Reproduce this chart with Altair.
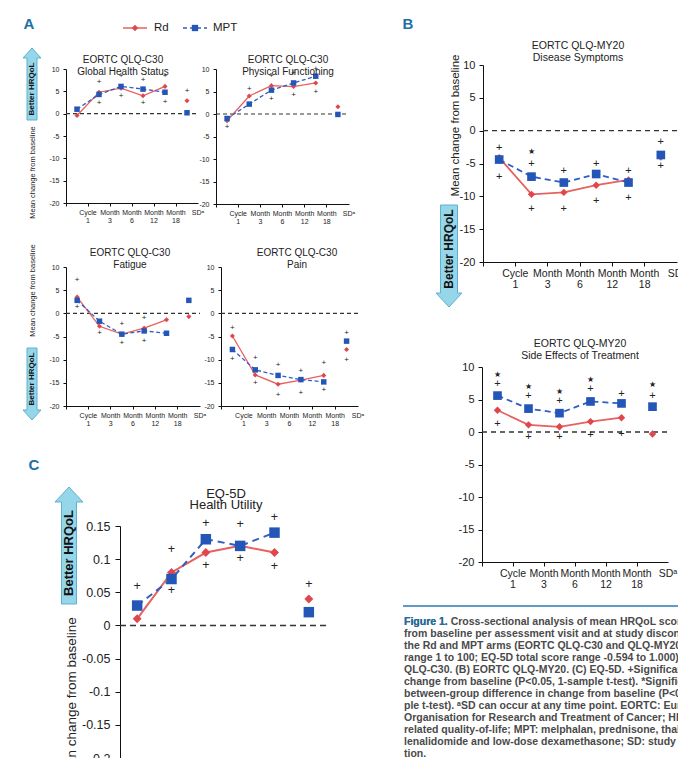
import altair as alt
import pandas as pd

W, H = 678, 758
FONT = "Liberation Sans, Arial, sans-serif"
RED = "#e0474c"
RED_LINE = "#e7615f"
BLUE = "#2456b8"
BLUE_LINE = "#2f5ec4"
ARROW_FILL = "#95d6e9"
ARROW_STROKE = "#5fb0d0"
LETTER = "#1d6fa5"

VISITS = ["Cycle 1", "Month 3", "Month 6", "Month 12", "Month 18", "SDᵃ"]

# ---- Panel A: EORTC QLQ-C30 ----
GH_RD = [-0.4, 4.8, 5.7, 4.0, 6.1, 2.9]
GH_MPT = [1.0, 4.3, 6.1, 5.5, 4.8, 0.2]
GH_SIG_VISIT = ["Month 3", "Month 3", "Month 6", "Month 6", "Month 12", "Month 12", "Month 18", "Month 18", "SDᵃ"]
GH_SIG_VALUE = [7.1, 2.5, 8.5, 3.9, 7.6, 2.3, 8.5, 2.7, 5.1]
GH_SIG_MARK = ["+", "+", "+", "+", "+", "+", "+", "+", "+"]

PF_RD = [-1.5, 4.0, 6.3, 6.1, 6.9, 1.6]
PF_MPT = [-1.0, 2.2, 5.3, 6.9, 8.4, -0.1]
PF_SIG_VISIT = ["Cycle 1", "Month 3", "Month 6", "Month 6", "Month 12", "Month 12", "Month 18", "Month 18"]
PF_SIG_VALUE = [-2.9, 5.6, 8.4, 3.3, 9.1, 4.3, 10.0, 4.9]
PF_SIG_MARK = ["+", "+", "+", "+", "+", "+", "+", "+"]

FA_RD = [3.5, -2.8, -4.5, -3.2, -1.4, -0.7]
FA_MPT = [2.8, -1.7, -4.5, -3.8, -4.3, 2.8]
FA_SIG_VISIT = ["Cycle 1", "Cycle 1", "Month 3", "Month 6", "Month 6", "Month 12", "Month 12"]
FA_SIG_VALUE = [7.1, 1.3, -4.2, -2.3, -6.3, -1.1, -5.9]
FA_SIG_MARK = ["+", "+", "+", "+", "+", "+", "+"]

PA_RD = [-4.9, -13.3, -15.3, -14.4, -13.4, -7.8]
PA_MPT = [-7.8, -12.2, -13.4, -14.3, -14.8, -6.0]
PA_SIG_VISIT = ["Cycle 1", "Cycle 1", "Month 3", "Month 3", "Month 6", "Month 6",
                "Month 12", "Month 12", "Month 18", "Month 18", "SDᵃ", "SDᵃ"]
PA_SIG_VALUE = [-3.2, -9.9, -9.6, -15.0, -11.2, -17.6, -12.4, -17.1, -10.7, -16.5, -4.3, -10.0]
PA_SIG_MARK = ["+", "+", "+", "+", "+", "+", "+", "+", "+", "+", "+", "+"]

# ---- Panel B: EORTC QLQ-MY20 ----
DS_RD = [-4.1, -9.7, -9.4, -8.3, -7.5, -4.0]
DS_MPT = [-4.4, -7.0, -7.9, -6.6, -7.9, -3.7]
DS_SIG_VISIT = ["Cycle 1", "Cycle 1", "Month 3", "Month 3", "Month 3", "Month 6", "Month 6",
                "Month 12", "Month 12", "Month 18", "Month 18", "SDᵃ", "SDᵃ"]
DS_SIG_VALUE = [-2.6, -7.0, -3.3, -5.1, -11.9, -6.1, -11.9, -5.0, -10.7, -6.1, -10.3, -1.7, -5.4]
DS_SIG_MARK = ["+", "+", "★", "+", "+", "+", "+", "+", "+", "+", "+", "+", "+"]

SE_RD = [3.35, 1.1, 0.8, 1.6, 2.2, -0.3]
SE_MPT = [5.6, 3.6, 2.9, 4.7, 4.4, 3.9]
SE_SIG_VISIT = ["Cycle 1", "Cycle 1", "Cycle 1", "Month 3", "Month 3", "Month 3",
                "Month 6", "Month 6", "Month 6", "Month 12", "Month 12", "Month 12",
                "Month 18", "Month 18", "SDᵃ", "SDᵃ"]
SE_SIG_VALUE = [8.8, 7.4, 1.3, 6.9, 5.6, -0.8, 6.1, 4.7, -0.8, 8.0, 6.6, -0.4, 5.9, -0.3, 7.2, 5.6]
SE_SIG_MARK = ["★", "+", "+", "★", "+", "+", "★", "+", "+", "★", "+", "+", "+", "+", "★", "+"]

# ---- Panel C: EQ-5D ----
EQ_RD = [0.01, 0.08, 0.11, 0.12, 0.11, 0.04]
EQ_MPT = [0.03, 0.07, 0.13, 0.12, 0.14, 0.02]
EQ_SIG_VISIT = ["Cycle 1", "Month 3", "Month 3", "Month 6", "Month 6", "Month 12", "Month 12",
                "Month 18", "Month 18", "SDᵃ"]
EQ_SIG_VALUE = [0.06, 0.115, 0.053, 0.155, 0.091, 0.153, 0.101, 0.164, 0.09, 0.062]
EQ_SIG_MARK = ["+", "+", "+", "+", "+", "+", "+", "+", "+", "+"]

A_TICKS = [-20, -15, -10, -5, 0, 5, 10]
C_TICKS = [-0.2, -0.15, -0.1, -0.05, 0, 0.05, 0.1, 0.15]

CAPTION_LINES = [
    "Figure 1. Cross-sectional analysis of mean HRQoL scores: change",
    "from baseline per assessment visit and at study discontinuation in",
    "the Rd and MPT arms (EORTC QLQ-C30 and QLQ-MY20 score",
    "range 1 to 100; EQ-5D total score range -0.594 to 1.000). (A) EORTC",
    "QLQ-C30. (B) EORTC QLQ-MY20. (C) EQ-5D.  +Significant within-group",
    "change from baseline (P<0.05, 1-sample t-test). *Significant",
    "between-group difference in change from baseline (P<0.05, 2-sam-",
    "ple t-test). ᵃSD can occur at any time point. EORTC: European",
    "Organisation for Research and Treatment of Cancer; HRQoL: health-",
    "related quality-of-life; MPT: melphalan, prednisone, thalidomide; Rd:",
    "lenalidomide and low-dose dexamethasone; SD: study discontinua-",
    "tion.",
]

STYLE_A = dict(yfs=7, xfs=7, lh=8, tick=3, ypad=4, xpad=2, msd=26, mss=30, lw=1.3,
               dash=[4, 2.5], sfs=8, stfs=6, zdash=[4, 3], zw=1.1)
STYLE_B = dict(yfs=11, xfs=10.5, lh=11, tick=4, ypad=4, xpad=2, msd=55, mss=75, lw=1.8,
               dash=[6, 4], sfs=11, stfs=8, zdash=[5, 4], zw=1.4)
STYLE_C = dict(yfs=12.5, xfs=12, lh=13, tick=5, ypad=5, xpad=3, msd=80, mss=110, lw=2,
               dash=[7, 5], sfs=12.5, stfs=9, zdash=[6, 4], zw=1.5)

one = pd.DataFrame({"k": [0]})


def panel(rd, mpt, sv, sval, smark, ydom, yvals, xr, yr, st, ytitle=None):
    n = len(VISITS)
    bw = (xr[1] - xr[0]) / n
    xaxis = alt.Axis(orient="bottom", offset=yr[0] - H, title="",
                     labelExpr="split(datum.label, ' ')", labelAngle=0,
                     bandPosition=0, labelOffset=bw / 2, tickSize=st["tick"],
                     labelFontSize=st["xfs"], labelLineHeight=st["lh"],
                     labelPadding=st["xpad"], domainColor="#111", tickColor="#111",
                     labelColor="#222", grid=False)
    ykw = dict(orient="left", offset=-xr[0], values=yvals,
               labelExpr="'' + datum.value", grid=False, tickSize=st["tick"],
               labelFontSize=st["yfs"], labelPadding=st["ypad"],
               domainColor="#111", tickColor="#111", labelColor="#222")
    if ytitle:
        ykw.update(title="Mean change from baseline", titleX=ytitle[0] - xr[0],
                   titleY=ytitle[1], titleAngle=270, titleAlign="center",
                   titleBaseline="middle", titleFontSize=ytitle[2],
                   titleFontWeight="normal", titleColor="#222")
    else:
        ykw.update(title="")
    X = alt.X("visit:N", scale=alt.Scale(type="band", domain=VISITS, range=list(xr),
                                         paddingInner=0, paddingOuter=0), axis=xaxis)
    Y = alt.Y("value:Q", scale=alt.Scale(domain=ydom, range=[yr[0], yr[1]],
                                         nice=False, zero=False), axis=alt.Axis(**ykw))

    rd_df = pd.DataFrame({"visit": VISITS, "value": rd, "i": list(range(n))})
    mpt_df = pd.DataFrame({"visit": VISITS, "value": mpt, "i": list(range(n))})
    sig_df = pd.DataFrame({"visit": sv, "value": sval, "mark": smark})

    zero = alt.Chart(pd.DataFrame({"value": [0.0]})).mark_rule(
        color="#333", strokeDash=st["zdash"], strokeWidth=st["zw"]
    ).encode(y=Y, x=alt.value(xr[0]), x2=alt.value(xr[1]))
    rd_line = alt.Chart(rd_df.iloc[:n - 1]).mark_line(
        color=RED_LINE, strokeWidth=st["lw"]
    ).encode(x=X, y=Y, order=alt.Order("i:Q"))
    rd_pts = alt.Chart(rd_df).mark_point(
        shape="diamond", filled=True, color=RED, size=st["msd"], opacity=1
    ).encode(x=X, y=Y)
    mpt_line = alt.Chart(mpt_df.iloc[:n - 1]).mark_line(
        color=BLUE_LINE, strokeWidth=st["lw"], strokeDash=st["dash"]
    ).encode(x=X, y=Y, order=alt.Order("i:Q"))
    mpt_pts = alt.Chart(mpt_df).mark_point(
        shape="square", filled=True, color=BLUE, size=st["mss"], opacity=1
    ).encode(x=X, y=Y)
    plus = alt.Chart(sig_df).transform_filter("datum.mark == '+'").mark_text(
        fontSize=st["sfs"], color="#222", baseline="middle", align="center"
    ).encode(x=X, y=Y, text="mark:N")
    star = alt.Chart(sig_df).transform_filter("datum.mark != '+'").mark_text(
        fontSize=st["stfs"], color="#222", baseline="middle", align="center",
        font="DejaVu Sans"
    ).encode(x=X, y=Y, text="mark:N")
    return alt.layer(zero, rd_line, rd_pts, mpt_line, mpt_pts, plus, star)


def label_text(lines, x, y, size, line_h, color="#222", weight="normal", align="center"):
    return alt.Chart(one).mark_text(
        text=lines, fontSize=size, lineHeight=line_h, color=color, fontWeight=weight,
        align=align, baseline="middle"
    ).encode(x=alt.value(x), y=alt.value(y))


def arrow(xc, y_top, y_bot, body_w, head_w, head_h, up, fs):
    L = float(y_bot - y_top)
    k = 2.0 / L
    bw = body_w / 2 * k
    hw = head_w / 2 * k
    hh = head_h * k
    if up:
        b = -1 + hh
        path = (f"M{-bw:.4f},1 L{-bw:.4f},{b:.4f} L{-hw:.4f},{b:.4f} L0,-1 "
                f"L{hw:.4f},{b:.4f} L{bw:.4f},{b:.4f} L{bw:.4f},1 Z")
        tc = (y_top + head_h + y_bot) / 2
    else:
        b = 1 - hh
        path = (f"M{-bw:.4f},-1 L{-bw:.4f},{b:.4f} L{-hw:.4f},{b:.4f} L0,1 "
                f"L{hw:.4f},{b:.4f} L{bw:.4f},{b:.4f} L{bw:.4f},-1 Z")
        tc = (y_top + y_bot - head_h) / 2
    shape = alt.Chart(one).mark_point(
        shape=path, size=L * L, filled=True, fill=ARROW_FILL, stroke=ARROW_STROKE,
        strokeWidth=1, opacity=1
    ).encode(x=alt.value(xc), y=alt.value((y_top + y_bot) / 2))
    txt = alt.Chart(one).mark_text(
        text="Better HRQoL", angle=270, fontSize=fs, fontWeight="bold", color="#111",
        baseline="middle", align="center"
    ).encode(x=alt.value(xc), y=alt.value(tc))
    return [shape, txt]


panels = [
    panel(GH_RD, GH_MPT, GH_SIG_VISIT, GH_SIG_VALUE, GH_SIG_MARK, [-20, 10], A_TICKS,
          (66, 198), (203, 69), STYLE_A, ytitle=(32, 172, 7.5)),
    panel(PF_RD, PF_MPT, PF_SIG_VISIT, PF_SIG_VALUE, PF_SIG_MARK, [-20, 10], A_TICKS,
          (216, 349), (204, 69), STYLE_A),
    panel(FA_RD, FA_MPT, FA_SIG_VISIT, FA_SIG_VALUE, FA_SIG_MARK, [-20, 10], A_TICKS,
          (66, 200), (406, 267), STYLE_A, ytitle=(32, 290, 7.5)),
    panel(PA_RD, PA_MPT, PA_SIG_VISIT, PA_SIG_VALUE, PA_SIG_MARK, [-20, 10], A_TICKS,
          (221, 358), (406, 267), STYLE_A),
    panel(DS_RD, DS_MPT, DS_SIG_VISIT, DS_SIG_VALUE, DS_SIG_MARK, [-20, 10], A_TICKS,
          (483, 677), (262, 65), STYLE_B, ytitle=(455, 125, 11.5)),
    panel(SE_RD, SE_MPT, SE_SIG_VISIT, SE_SIG_VALUE, SE_SIG_MARK, [-20, 10], A_TICKS,
          (482, 668), (562, 367), STYLE_B),
    panel(EQ_RD, EQ_MPT, EQ_SIG_VISIT, EQ_SIG_VALUE, EQ_SIG_MARK, [-0.2, 0.15], C_TICKS,
          (120, 326), (758, 526), STYLE_C, ytitle=(71, 700, 13.5)),
]

decor = []
# panel titles
decor.append(label_text(["EORTC QLQ-C30", "Global Health Status"], 123, 60, 10, 12))
decor.append(label_text(["EORTC QLQ-C30", "Physical Functioning"], 288, 60, 10, 12))
decor.append(label_text(["EORTC QLQ-C30", "Fatigue"], 130, 253, 10, 12))
decor.append(label_text(["EORTC QLQ-C30", "Pain"], 297, 253, 10, 12))
decor.append(label_text(["EORTC QLQ-MY20", "Disease Symptoms"], 578, 46, 10.5, 12))
decor.append(label_text(["EORTC QLQ-MY20", "Side Effects of Treatment"], 580, 344, 10.5, 12))
decor.append(label_text(["EQ-5D", "Health Utility"], 226, 494, 13, 11))
# panel letters
decor.append(label_text("A", 29, 24, 15, 15, color=LETTER, weight="bold"))
decor.append(label_text("B", 408, 24, 15, 15, color=LETTER, weight="bold"))
decor.append(label_text("C", 34, 465, 15, 15, color=LETTER, weight="bold"))
# legend
decor.append(alt.Chart(one).mark_rule(color=RED_LINE, strokeWidth=1.5).encode(
    x=alt.value(123), x2=alt.value(147), y=alt.value(28)))
decor.append(alt.Chart(one).mark_point(shape="diamond", filled=True, color=RED, size=40,
                                       opacity=1).encode(x=alt.value(135), y=alt.value(28)))
decor.append(label_text("Rd", 154, 28, 11.5, 12, align="left"))
decor.append(alt.Chart(one).mark_rule(color=BLUE_LINE, strokeWidth=1.5, strokeDash=[4, 3]).encode(
    x=alt.value(183), x2=alt.value(207), y=alt.value(28)))
decor.append(alt.Chart(one).mark_point(shape="square", filled=True, color=BLUE, size=40,
                                       opacity=1).encode(x=alt.value(195), y=alt.value(28)))
decor.append(label_text("MPT", 213, 28, 11.5, 12, align="left"))
# arrows
decor += arrow(32, 48, 120, 10, 18, 10, True, 8)
decor += arrow(32, 348, 420, 10, 18, 10, False, 8)
decor += arrow(449, 205, 307, 17, 26, 14, False, 12)
decor += arrow(69, 487, 604, 15, 28, 15, True, 13)
# caption
decor.append(alt.Chart(one).mark_rule(color="#2a7ab0", strokeWidth=1.5).encode(
    x=alt.value(403), x2=alt.value(678), y=alt.value(606)))
decor.append(alt.Chart(one).mark_text(
    text=CAPTION_LINES, fontSize=10.5, lineHeight=12, color="#4a4a4a", align="left",
    baseline="alphabetic", fontWeight="bold"
).encode(x=alt.value(404), y=alt.value(625)))
decor.append(alt.Chart(one).mark_text(
    text="Figure 1.", fontSize=10.5, color="#1d6fa5", align="left", baseline="alphabetic",
    fontWeight="bold"
).encode(x=alt.value(404), y=alt.value(625)))

chart = alt.layer(*panels, *decor).resolve_scale(
    x="independent", y="independent"
).properties(
    width=W, height=H, autosize=alt.AutoSizeParams(type="none"), padding=0
).configure(font=FONT).configure_view(stroke=None)

chart.save("out.html", embed_options={"renderer": "svg", "actions": False})
